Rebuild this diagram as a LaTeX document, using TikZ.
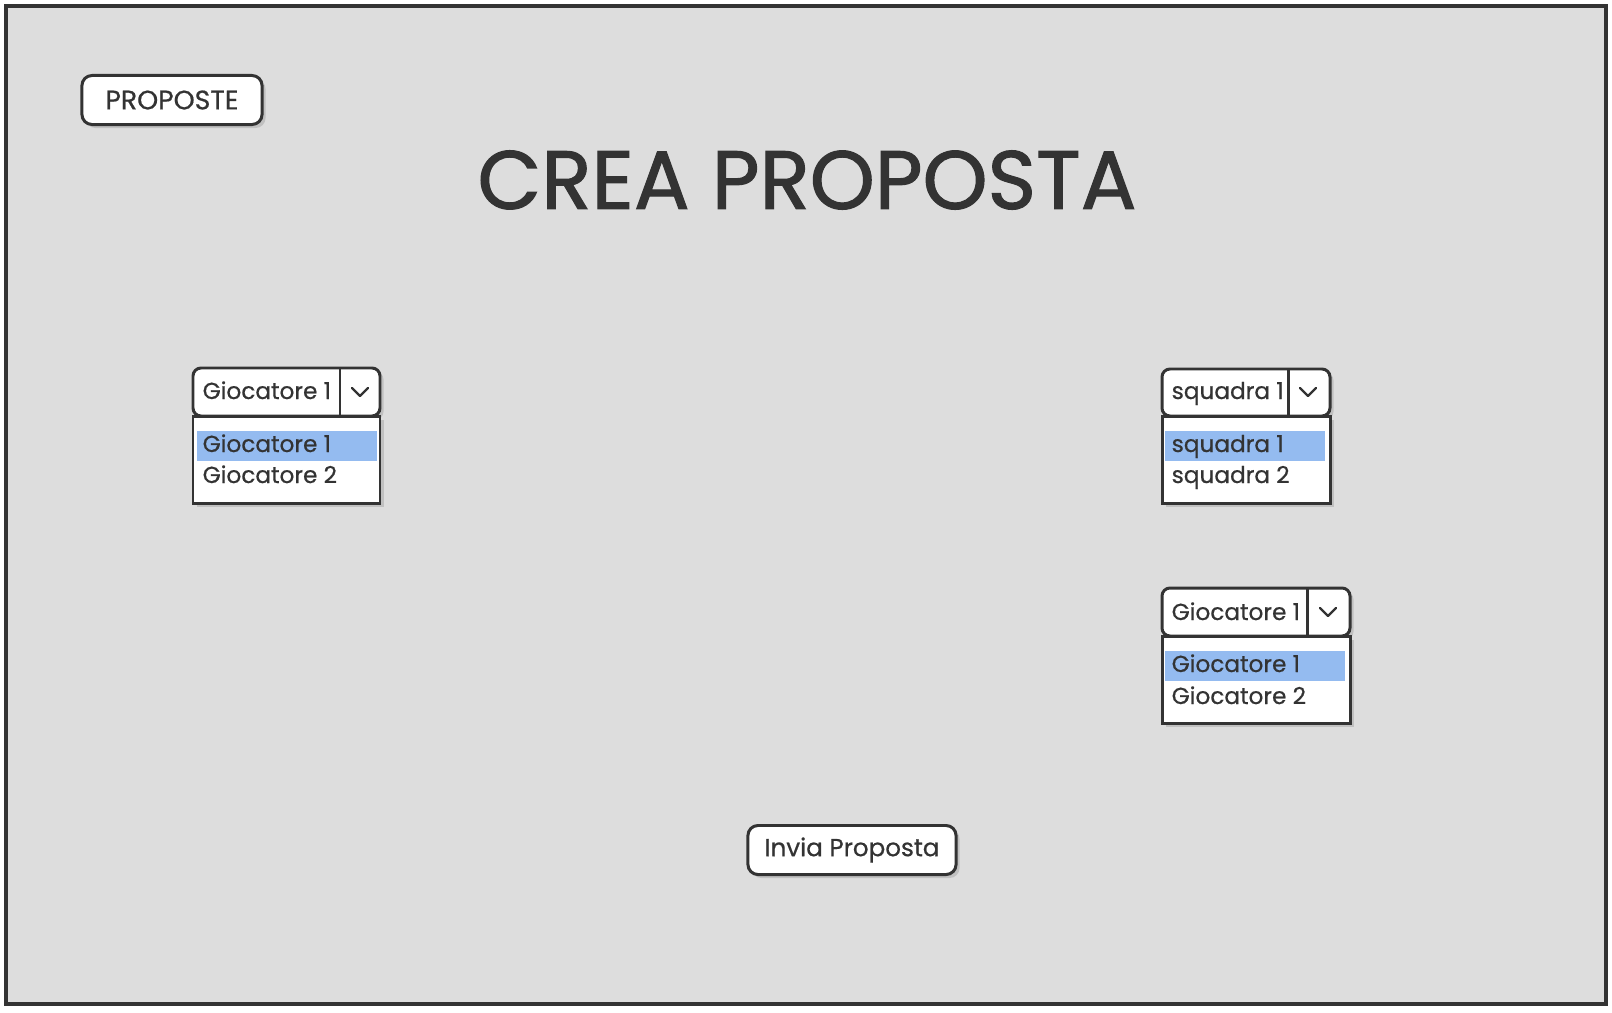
\documentclass[tikz,border=0pt]{standalone}
\usepackage{fontspec}
\setmainfont{Poppins}[UprightFeatures={FakeBold=0.6}]
\newfontfamily\headfont{Poppins}[UprightFeatures={FakeBold=1.4}]
\usepackage{tikz}
\usetikzlibrary{positioning,shadows}

\definecolor{ink}{HTML}{333333}
\definecolor{paper}{HTML}{DDDDDD}
\definecolor{pick}{HTML}{94BBF0}

\tikzset{
    widget/.style={draw=ink, line width=0.85pt, fill=white,
        drop shadow={shadow xshift=0.035cm, shadow yshift=-0.035cm, fill=black, opacity=0.13}},
    button/.style={widget, rounded corners=0.1cm, inner sep=0pt,
        text=ink, font=\fontsize{7}{8}\selectfont},
    item/.style={anchor=base west, inner sep=0pt, text=ink,
        font=\fontsize{6.6}{8}\selectfont},
    chevron/.style={draw=ink, line width=0.65pt, line cap=round, line join=round}
}

\begin{document}
\begin{tikzpicture}[x=0.01cm, y=-0.01cm]

\useasboundingbox (0,0) rectangle (1612,1012);

% ===========================
% Frame
% ===========================
\filldraw[fill=paper, draw=ink, line width=0.9pt] (6,6) rectangle (1606,1004);

% Back button
\node[button, minimum width=1.8cm, minimum height=0.49cm,
      font=\fontsize{7.6}{8}\selectfont] (proposte) at (172,100) {PROPOSTE};

% Title
\node[text=ink, font=\headfont\fontsize{23.5}{28}\selectfont] (title) at (807,180) {CREA PROPOSTA};

% ===========================
% LEFT: player dropdown
% ===========================
\begin{scope}[shift={(193,368)}]

    % Header
    \filldraw[widget, rounded corners=0.08cm] (0,48) -- (0,0) -- (187,0) -- (187,48) -- cycle;
    \draw[ink, line width=0.85pt] (147,0) -- (147,48);
    \draw[chevron] (159,20) -- (167,28) -- (175,20);
    \node[item] (giocA) at (9,31) {Giocatore 1};

    % List
    \filldraw[widget] (0,48) rectangle (187,135);
    \fill[pick] (4,63) rectangle (184,93);
    \node[item] (giocA1) at (9,84) {Giocatore 1};
    \node[item] (giocA2) at (9,115) {Giocatore 2};

\end{scope}

% ===========================
% RIGHT: team dropdown
% ===========================
\begin{scope}[shift={(1162,369)}]

    % Header
    \filldraw[widget, rounded corners=0.08cm] (0,47) -- (0,0) -- (168,0) -- (168,47) -- cycle;
    \draw[ink, line width=0.85pt] (126,0) -- (126,47);
    \draw[chevron] (138,19) -- (146,27) -- (154,19);
    \node[item] (squadra) at (9,30) {squadra 1};

    % List
    \filldraw[widget] (0,47) rectangle (168,134);
    \fill[pick] (3,62) rectangle (163,92);
    \node[item] (squadra1) at (9,83) {squadra 1};
    \node[item] (squadra2) at (9,114) {squadra 2};

\end{scope}

% ===========================
% RIGHT: player of team dropdown
% ===========================
\begin{scope}[shift={(1162,588)}]

    % Header
    \filldraw[widget, rounded corners=0.08cm] (0,48) -- (0,0) -- (188,0) -- (188,48) -- cycle;
    \draw[ink, line width=0.85pt] (145,0) -- (145,48);
    \draw[chevron] (158,20) -- (166,28) -- (174,20);
    \node[item] (giocB) at (9,32) {Giocatore 1};

    % List
    \filldraw[widget] (0,48) rectangle (188,135);
    \fill[pick] (3,63) rectangle (183,93);
    \node[item] (giocB1) at (9,84) {Giocatore 1};
    \node[item] (giocB2) at (9,116) {Giocatore 2};

\end{scope}

% Submit button
\node[button, minimum width=2.08cm, minimum height=0.49cm] (invia) at (852,850) {Invia Proposta};

\end{tikzpicture}
\end{document}
